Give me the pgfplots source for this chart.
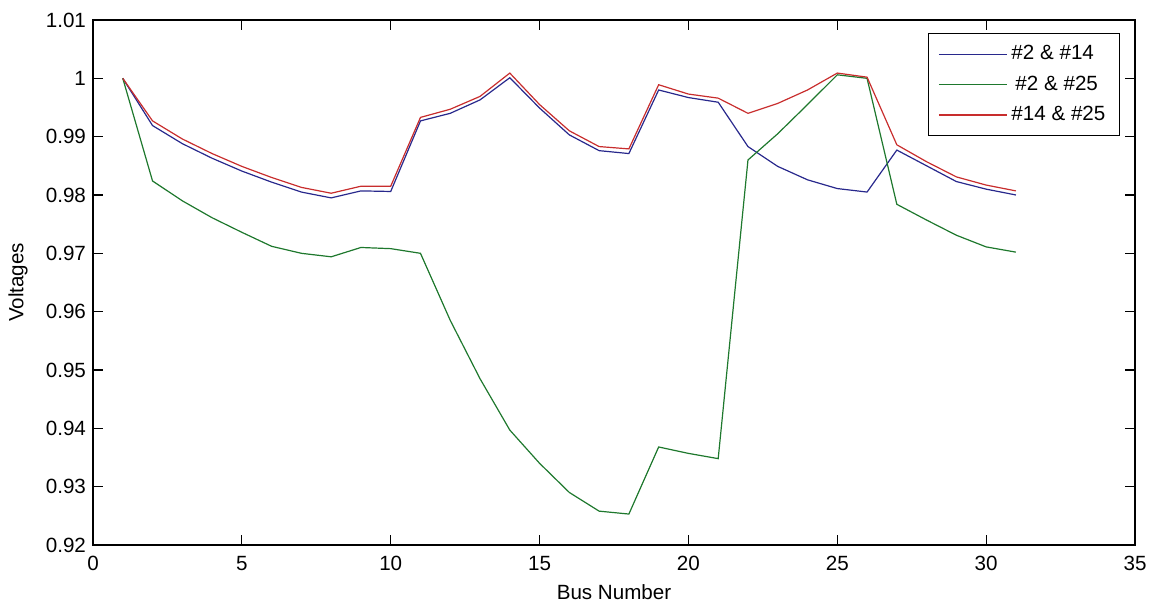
\documentclass[border=0pt]{standalone}
\usepackage{fontspec}
\setmainfont{Liberation Sans}
\usepackage{pgfplots}
\pgfplotsset{compat=1.18}
\definecolor{mblue}{RGB}{40,40,140}
\definecolor{mgreen}{RGB}{30,120,45}
\definecolor{mred}{RGB}{200,45,45}

\begin{document}
\begin{tikzpicture}
  \begin{axis}[
      scale only axis,
      width=521pt, height=262.5pt,
      xmin=0, xmax=35, ymin=0.92, ymax=1.01,
      xtick={0,5,...,35},
      ytick={0.92,0.93,0.94,0.95,0.96,0.97,0.98,0.99,1,1.01},
      yticklabel style={/pgf/number format/fixed, /pgf/number format/precision=2},
      /pgf/number format/assume math mode=true,
      tick align=inside, tick pos=both,
      major tick length=5pt,
      axis line style={line width=0.6pt},
      every tick/.style={line width=0.6pt, black},
      font=\fontsize{10.3}{12}\selectfont,
      tick label style={font=\fontsize{10.3}{12}\selectfont},
      xticklabel style={yshift=-2pt},
      xlabel={Bus Number}, ylabel={Voltages},
      xlabel style={at={(axis description cs:0.5,-0.0895)}, anchor=center},
      ylabel style={at={(axis description cs:-0.072,0.5)}, anchor=center},
      legend style={at={(rel axis cs:1,1)}, xshift=-7.5pt, yshift=-6.5pt,
        anchor=north east, draw=black, line width=0.6pt,
        font=\fontsize{10.3}{12}\selectfont, row sep=2.5pt,
        inner xsep=5pt, inner ysep=4pt},
      legend cell align=left,
      legend image code/.code={\draw[#1, line width=0.6pt] (0pt,0pt) -- (34pt,0pt);},
    ]
    % #2 & #14
    \addplot[color=mblue, line width=0.6pt] coordinates {
      (1,1.0000)(2,0.9919)(3,0.9888)(4,0.9863)(5,0.9841)(6,0.9822)(7,0.9805)
      (8,0.9795)(9,0.9807)(10,0.9806)(11,0.9927)(12,0.9940)(13,0.9963)
      (14,1.0001)(15,0.9949)(16,0.9903)(17,0.9876)(18,0.9871)(19,0.9980)
      (20,0.9967)(21,0.9959)(22,0.9883)(23,0.9849)(24,0.9826)(25,0.9811)
      (26,0.9805)(27,0.9877)(28,0.9850)(29,0.9823)(30,0.9810)(31,0.9800)
    };
    % #2 & #25
    \addplot[color=mgreen, line width=0.6pt] coordinates {
      (1,1.0000)(2,0.9824)(3,0.9790)(4,0.9761)(5,0.9736)(6,0.9712)(7,0.9700)
      (8,0.9694)(9,0.9710)(10,0.9708)(11,0.9700)(12,0.9585)(13,0.9485)
      (14,0.9397)(15,0.9340)(16,0.9290)(17,0.9258)(18,0.9253)(19,0.9368)
      (20,0.9357)(21,0.9348)(22,0.9860)(23,0.9905)(24,0.9955)(25,1.0006)
      (26,1.0000)(27,0.9784)(28,0.9757)(29,0.9731)(30,0.9711)(31,0.9702)
    };
    % #14 & #25
    \addplot[color=mred, line width=0.6pt] coordinates {
      (1,1.0000)(2,0.9927)(3,0.9896)(4,0.9871)(5,0.9849)(6,0.9830)(7,0.9813)
      (8,0.9803)(9,0.9815)(10,0.9815)(11,0.9933)(12,0.9947)(13,0.9969)
      (14,1.0009)(15,0.9955)(16,0.9910)(17,0.9883)(18,0.9879)(19,0.9989)
      (20,0.9973)(21,0.9966)(22,0.9940)(23,0.9957)(24,0.9980)(25,1.0009)
      (26,1.0002)(27,0.9886)(28,0.9857)(29,0.9831)(30,0.9817)(31,0.9807)
    };
    \legend{\#2 \& \#14, \hspace{2pt}\#2 \& \#25, \#14 \& \#25}
  \end{axis}
  \path (current axis.south west) ++(-46.5pt,-29.5pt) coordinate (bbl);
  \path (current axis.north east) ++(10.5pt,10pt) coordinate (bbr);
  \path (bbl) rectangle (bbr);
\end{tikzpicture}
\end{document}
